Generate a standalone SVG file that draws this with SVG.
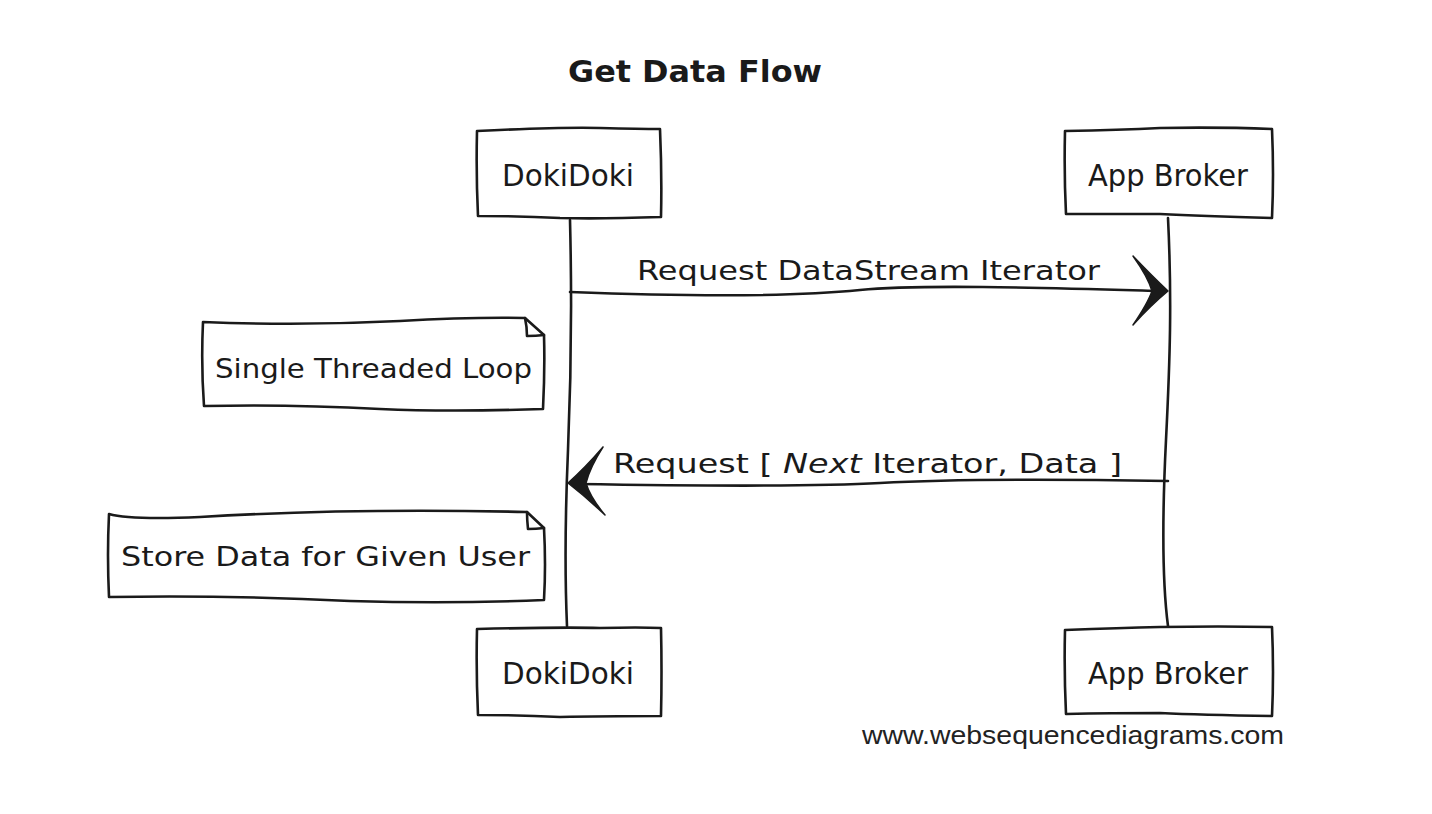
<svg xmlns="http://www.w3.org/2000/svg" width="1432" height="814" viewBox="0 0 1432 814">
<style>
.sk{fill:none;stroke:#1a1a1a;stroke-width:2.6;stroke-linecap:round;stroke-linejoin:round}
.box{fill:#fff;stroke:#1a1a1a;stroke-width:2.6;stroke-linejoin:round}
.hd{fill:#1a1a1a;stroke:#1a1a1a;stroke-width:1.5;stroke-linejoin:round}
.t{font-family:"DejaVu Sans","Liberation Sans",sans-serif;fill:#1a1a1a}
.f{font-family:"Liberation Sans",Arial,sans-serif;fill:#222;font-size:26px}
</style>
<rect width="1432" height="814" fill="#fff"/>
<text class="t" x="568" y="82" font-size="30" font-weight="bold" textLength="254" lengthAdjust="spacingAndGlyphs">Get Data Flow</text>
<g id="connectors">
<path class="sk" d="M570,220 C572,300 571,380 568,450 S565,580 567,626"/>
<path class="sk" d="M1168,218 C1172,300 1170,360 1166,440 S1162,580 1168,626"/>
<path class="sk" d="M570,292 C700,297 800,296 860,290 S1050,288 1160,291"/>
<path class="hd" d="M1133,256 Q1152,276 1168,291 Q1150,306 1133,325 Q1148,303 1152,291 Q1148,277 1133,256 Z"/>
<text class="t" x="637" y="280" font-size="27" textLength="463" lengthAdjust="spacingAndGlyphs">Request DataStream Iterator</text>
<path class="sk" d="M1168,481 C1050,479 950,479 880,483 S700,486 576,484"/>
<path class="hd" d="M603,447 Q585,468 568,483 Q586,497 605,515 Q590,497 586,483 Q590,467 603,447 Z"/>
<text class="t" x="613" y="473" font-size="27" textLength="509" lengthAdjust="spacingAndGlyphs">Request [ <tspan font-style="italic">Next</tspan> Iterator, Data ]</text>
</g>
<g id="dokidoki-top">
<path class="box" d="M477,131 Q560,127 600,128 Q640,129 660,129 Q662,175 661,217 Q600,219 560,218 Q520,216 478,216 Q476,175 477,131 Z"/>
<text class="t" x="502" y="186" font-size="30" textLength="132" lengthAdjust="spacingAndGlyphs">DokiDoki</text>
</g>
<g id="appbroker-top">
<path class="box" d="M1065,131 Q1120,130 1160,128 Q1220,127 1272,129 Q1274,175 1272,218 Q1200,216 1160,214 Q1110,214 1066,214 Q1064,175 1065,131 Z"/>
<text class="t" x="1088" y="186" font-size="30" textLength="160" lengthAdjust="spacingAndGlyphs">App Broker</text>
</g>
<g id="note-loop">
<path class="box" d="M203,322 Q300,326 400,321 Q470,317 525,318 L544,335 Q545,370 543,409 Q450,412 380,409 Q290,404 204,406 Q201,365 203,322 Z"/>
<path class="sk" d="M525,318 Q527,327 527,336 Q536,336 544,335"/>
<text class="t" x="215" y="378" font-size="27" textLength="317" lengthAdjust="spacingAndGlyphs">Single Threaded Loop</text>
</g>
<g id="note-store">
<path class="box" d="M109,514 Q130,520 200,517 Q350,508 527,512 L544,528 Q546,565 544,600 Q450,604 350,601 Q230,595 109,597 Q107,555 109,514 Z"/>
<path class="sk" d="M527,512 Q527,520 528,529 Q536,529 544,528"/>
<text class="t" x="121" y="566" font-size="27" textLength="409" lengthAdjust="spacingAndGlyphs">Store Data for Given User</text>
</g>
<g id="dokidoki-bottom">
<path class="box" d="M477,629 Q560,627 600,628 Q640,627 661,628 Q662,672 661,716 Q600,716 560,717 Q520,715 478,715 Q476,672 477,629 Z"/>
<text class="t" x="502" y="684" font-size="30" textLength="132" lengthAdjust="spacingAndGlyphs">DokiDoki</text>
</g>
<g id="appbroker-bottom">
<path class="box" d="M1065,630 Q1120,628 1160,627 Q1220,626 1272,627 Q1274,672 1272,716 Q1200,715 1160,713 Q1110,713 1066,714 Q1064,672 1065,630 Z"/>
<text class="t" x="1088" y="684" font-size="30" textLength="160" lengthAdjust="spacingAndGlyphs">App Broker</text>
</g>
<text class="f" x="862" y="744" textLength="422" lengthAdjust="spacingAndGlyphs">www.websequencediagrams.com</text>
</svg>
